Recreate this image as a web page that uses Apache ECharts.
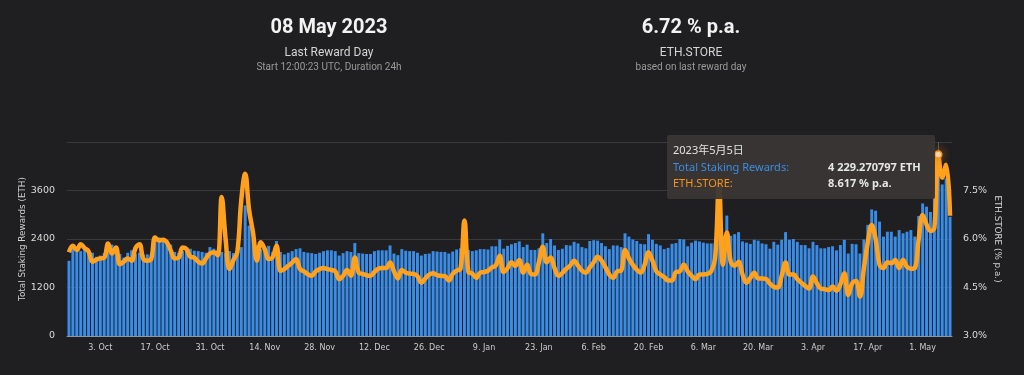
<!DOCTYPE html>
<html>
<head>
<meta charset="utf-8">
<title>ETH.STORE</title>
<script src="https://cdn.jsdelivr.net/npm/echarts@6/dist/echarts.min.js"></script>
<style>
html, body { margin: 0; padding: 0; background: #1f1e21; }
#main { width: 1024px; height: 375px; }
</style>
</head>
<body>
<div id="main"></div>
<script>
// first reward day, one bar per day
var firstDay = '2022-09-25';

// total staking rewards per day (ETH)
var rewards = [
    1860, 2200, 2150, 2100, 2180, 2120, 2060, 1960, 1990, 2050, 2080, 2260, 2050, 2030, 1940, 2060, 2120, 2030, 2060, 2010,
    2020, 2000, 2480, 2440, 2400, 2380, 2260, 2080, 2060, 2100, 2180, 2160, 2110, 2100, 2080, 2060, 2200, 2160,
    2120, 2080, 2050, 2100, 2050, 2100, 2200, 3230, 2730, 2380, 2250, 2150, 2100, 2230, 2080, 2350, 2080, 2020, 2060, 2100,
    2150, 2170, 2080, 2060, 2050, 2030, 2060, 2100, 2120, 2120, 2100, 1990, 2050, 2100, 2080, 2300, 2050,
    2040, 2030, 2030, 2100, 2120, 2120, 2120, 2240, 2040, 2000, 2150, 2110, 2100, 2100, 2060, 1990, 2030, 2040, 2100, 2090,
    2080, 2080, 2040, 2090, 2140, 2170, 2130, 2130, 2100, 2120, 2150, 2150, 2140, 2220, 2220, 2390, 2160,
    2230, 2270, 2300, 2340, 2200, 2260, 2130, 2130, 2170, 2540, 2300, 2400, 2240, 2130, 2160, 2250, 2240, 2330, 2290, 2200,
    2170, 2350, 2370, 2360, 2300, 2220, 2150, 2240, 2240, 2200, 2540, 2460, 2390, 2350, 2280, 2270, 2520,
    2380, 2280, 2240, 2150, 2180, 2280, 2300, 2400, 2390, 2220, 2310, 2360, 2340, 2310, 2290, 2290, 2300, 2480, 2480, 2980,
    2480, 2520, 2570, 2340, 2310, 2280, 2380, 2360, 2290, 2270, 2160, 2330, 2260, 2380, 2570, 2380, 2400,
    2330, 2250, 2250, 2170, 2330, 2250, 2170, 2170, 2200, 2220, 2120, 2250, 2380, 2040, 2280, 2270, 2040, 2390, 2750, 3130,
    3100, 2830, 2460, 2580, 2580, 2460, 2620, 2540, 2580, 2620, 2460,
    2970, 3280, 3200, 3070, 3500, 4229.270797, 3750, 3900, 2950
];

// ETH.STORE (% p.a.)
var ethStore = [
    5.59, 5.79, 5.66, 5.84, 5.72, 5.62, 5.30, 5.36, 5.40, 5.42, 5.86, 5.55, 5.74, 5.22, 5.30, 5.40, 5.33, 5.72, 5.84, 5.38,
    5.33, 5.38, 6.05, 5.95, 5.98, 5.90, 5.64, 5.40, 5.42, 5.74, 5.69, 5.45, 5.42, 5.30, 5.24, 5.40, 5.55, 5.59,
    5.50, 7.30, 6.00, 5.07, 5.35, 5.60, 7.20, 8.02, 6.90, 6.20, 5.33, 5.90, 5.69, 5.38, 5.43, 5.79, 5.02, 5.07, 5.17, 5.27,
    5.38, 5.07, 5.00, 4.91, 4.86, 5.00, 5.07, 5.10, 5.07, 5.04, 5.00, 4.76, 4.86, 5.04, 4.86, 5.43, 4.96,
    4.92, 4.88, 4.86, 4.98, 5.08, 5.10, 5.10, 5.27, 5.00, 4.78, 5.04, 4.96, 4.93, 4.92, 4.85, 4.65, 4.78, 4.90, 4.94, 4.88,
    4.86, 4.85, 4.72, 4.92, 5.02, 5.08, 6.57, 4.98, 4.93, 4.80, 4.96, 4.98, 5.02, 5.12, 5.18, 5.48, 4.98,
    5.10, 5.28, 5.17, 5.35, 4.96, 5.20, 4.92, 4.90, 5.28, 5.76, 5.28, 5.43, 5.10, 4.86, 4.95, 5.08, 5.18, 5.33, 5.18, 5.02,
    4.96, 5.12, 5.28, 5.45, 5.33, 5.12, 4.90, 4.80, 5.00, 5.02, 5.66, 5.40, 5.20, 5.05, 4.96, 5.20, 5.59,
    5.33, 5.00, 4.90, 4.82, 4.72, 4.72, 4.98, 5.00, 5.20, 5.00, 4.86, 4.76, 4.90, 4.90, 4.92, 5.00, 5.40, 7.70, 5.20, 6.20,
    5.30, 5.17, 5.30, 4.90, 4.65, 4.80, 4.96, 4.78, 4.78, 4.76, 4.62, 4.52, 4.50, 4.86, 5.27, 4.90, 4.90,
    4.76, 4.65, 4.55, 4.47, 4.84, 4.63, 4.47, 4.45, 4.42, 4.53, 4.40, 4.60, 4.94, 4.27, 4.63, 4.70, 4.22, 5.10, 5.90, 6.43,
    6.00, 5.20, 5.10, 5.28, 5.25, 5.35, 5.10, 5.35, 5.14, 5.08, 5.10,
    6.00, 6.74, 6.45, 6.25, 6.35, 8.617, 7.90, 8.30, 6.72
];

var monthNames = ['Jan', 'Feb', 'Mar', 'Apr', 'May', 'Jun', 'Jul', 'Aug', 'Sep', 'Oct', 'Nov', 'Dec'];
var hoverDay = 222; // 2023-05-05, the day the tooltip is open on
var firstLabel = 8;  // 3. Oct, then every 14 days

var days = [];
var t0 = Date.parse(firstDay + 'T00:00:00Z');
for (var i = 0; i < rewards.length; i++) {
    days.push(new Date(t0 + i * 86400000).toISOString().substr(0, 10));
}

function toDate(s) {
    return new Date(s + 'T00:00:00Z');
}
function spaced(v, dec) {
    var parts = v.toFixed(dec).split('.');
    parts[0] = parts[0].replace(/\B(?=(\d{3})+(?!\d))/g, ' ');
    return parts.join('.');
}
function showLabel(idx) {
    return (idx - firstLabel) % 14 === 0;
}

var lastDate = toDate(days[days.length - 1]);
var lastDateText = ('0' + lastDate.getUTCDate()).slice(-2) + ' ' + monthNames[lastDate.getUTCMonth()] + ' ' + lastDate.getUTCFullYear();
var lastApr = ethStore[ethStore.length - 1].toFixed(2) + ' % p.a.';

var orange = '#f7931a';
var blue = '#3a8de6';
var axisFont = 'DejaVu Sans';

var myChart = echarts.init(document.getElementById('main'));
var option = {
    backgroundColor: '#1f1e21',
    animation: false,
    graphic: [
        {type: 'text', x: 329, y: 28, style: {text: lastDateText, fill: '#f2f2f2', font: 'bold 20px Roboto', textAlign: 'center', textVerticalAlign: 'middle'}},
        {type: 'text', x: 329, y: 53, style: {text: 'Last Reward Day', fill: '#d4d4d4', font: '12px Roboto', textAlign: 'center', textVerticalAlign: 'middle'}},
        {type: 'text', x: 329, y: 67, style: {text: 'Start 12:00:23 UTC, Duration 24h', fill: '#9a9a9a', font: '10px Roboto', textAlign: 'center', textVerticalAlign: 'middle'}},
        {type: 'text', x: 691, y: 28, style: {text: lastApr, fill: '#f2f2f2', font: 'bold 20px Roboto', textAlign: 'center', textVerticalAlign: 'middle'}},
        {type: 'text', x: 691, y: 53, style: {text: 'ETH.STORE', fill: '#d4d4d4', font: '12px Roboto', textAlign: 'center', textVerticalAlign: 'middle'}},
        {type: 'text', x: 691, y: 67, style: {text: 'based on last reward day', fill: '#9a9a9a', font: '10px Roboto', textAlign: 'center', textVerticalAlign: 'middle'}}
    ],
    grid: {
        left: 67,
        right: 72,
        top: 142,
        bottom: 39,
        containLabel: false,
        outerBoundsMode: 'none'
    },
    tooltip: {
        trigger: 'axis',
        triggerOn: 'none',
        alwaysShowContent: true,
        position: [667, 135],
        backgroundColor: 'rgba(58,54,52,0.94)',
        borderWidth: 0,
        padding: [7, 6, 7, 6],
        extraCssText: 'box-shadow:none;border-radius:2px;',
        axisPointer: {
            type: 'line',
            z: 1,
            lineStyle: {color: '#5a5a5a', width: 1, type: 'solid'}
        },
        formatter: function (params) {
            var d = toDate(params[0].axisValue);
            var head = d.getUTCFullYear() + '年' + (d.getUTCMonth() + 1) + '月' + d.getUTCDate() + '日';
            var html = '<div style="font-family:\'Noto Sans\',\'Noto Sans CJK SC\',sans-serif;font-size:11px;line-height:16.5px;width:256px;">';
            html += '<div style="color:#e2e2e2;">' + head + '</div>';
            for (var k = 0; k < params.length; k++) {
                var p = params[k];
                var val = p.seriesIndex === 0 ? spaced(p.value, 6) + ' ETH' : p.value.toFixed(3) + ' % p.a.';
                html += '<div style="display:flex;"><span style="width:155px;color:' + p.color + ';">' + p.seriesName + ':</span>'
                    + '<span style="color:#e6e6e6;font-weight:bold;">' + val + '</span></div>';
            }
            return html + '</div>';
        }
    },
    xAxis: {
        type: 'category',
        data: days,
        boundaryGap: true,
        axisLine: {lineStyle: {color: '#8d97a8', width: 1}},
        axisTick: {alignWithLabel: true, interval: showLabel, length: 5, lineStyle: {color: '#8d97a8'}},
        axisLabel: {
            interval: showLabel,
            color: '#cdcdcd',
            fontFamily: axisFont,
            fontSize: 8,
            margin: 8,
            formatter: function (v) {
                var d = toDate(v);
                return d.getUTCDate() + '. ' + monthNames[d.getUTCMonth()];
            }
        },
        splitLine: {show: false}
    },
    yAxis: [
        {
            type: 'value',
            min: 0,
            max: 4800,
            interval: 1200,
            name: 'Total Staking Rewards (ETH)',
            nameLocation: 'middle',
            nameGap: 40,
            nameMoveOverlap: false,
            nameTextStyle: {color: '#d0d0d0', fontFamily: axisFont, fontSize: 8.8},
            axisLine: {show: false},
            axisTick: {show: false},
            axisLabel: {
                color: '#dcdcdc', fontFamily: axisFont, fontSize: 9.5, margin: 12, showMaxLabel: false,
                formatter: function (v) { return String(v); }
            },
            splitLine: {lineStyle: {color: '#3a393d', width: 1}}
        },
        {
            type: 'value',
            min: 3,
            max: 9,
            interval: 1.5,
            position: 'right',
            name: 'ETH.STORE (% p.a.)',
            nameLocation: 'middle',
            nameRotate: -90,
            nameGap: 41,
            nameMoveOverlap: false,
            nameTextStyle: {color: '#d0d0d0', fontFamily: axisFont, fontSize: 8.8},
            axisLine: {show: false},
            axisTick: {show: false},
            axisLabel: {
                color: '#dcdcdc', fontFamily: axisFont, fontSize: 9.5, margin: 11, showMaxLabel: false,
                formatter: function (v) { return v.toFixed(1) + '%'; }
            },
            splitLine: {show: false}
        }
    ],
    series: [
        {
            name: 'Total Staking Rewards',
            type: 'bar',
            yAxisIndex: 0,
            data: rewards,
            barCategoryGap: '25%',
            itemStyle: {color: blue},
            emphasis: {disabled: true}
        },
        {
            name: 'ETH.STORE',
            type: 'line',
            yAxisIndex: 1,
            data: ethStore,
            smooth: 0.4,
            showSymbol: false,
            symbol: 'circle',
            symbolSize: 7,
            z: 3,
            lineStyle: {color: orange, width: 4.5},
            itemStyle: {color: orange},
            emphasis: {
                scale: false,
                lineStyle: {width: 4.5},
                itemStyle: {
                    color: '#ffe3c2',
                    borderColor: orange,
                    borderWidth: 1.5,
                    shadowBlur: 10,
                    shadowColor: 'rgba(200,110,20,0.8)'
                }
            }
        }
    ]
};
myChart.setOption(option);
myChart.dispatchAction({type: 'showTip', seriesIndex: 1, dataIndex: hoverDay});
</script>
</body>
</html>
